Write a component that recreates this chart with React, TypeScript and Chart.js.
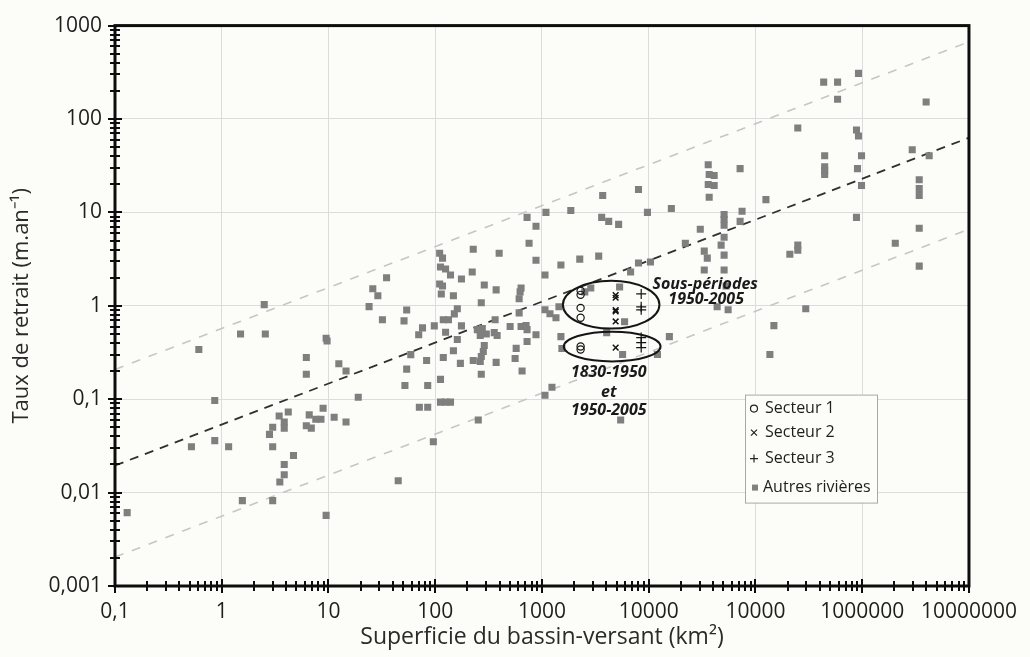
import React, { useEffect, useRef } from 'react';
import { Chart, registerables } from 'chart.js';
Chart.register(...registerables);

const FONT = '"Open Sans", sans-serif';
const BG = '#fcfcf8';

const xTickValues = [0.1, 1, 10, 100, 1000, 10000, 100000, 1000000, 10000000];
const xTickLabels = ['0,1', '1', '10', '100', '1000', '10000', '10000', '1000000', '10000000'];
const yTickValues = [0.001, 0.01, 0.1, 1, 10, 100, 1000];
const yTickLabels = ['0,001', '0,01', '0,1', '1', '10', '100', '1000'];

const xTitle = 'Superficie du bassin-versant (km²)';
const yTitle = 'Taux de retrait (m.an⁻¹)';

const legendLabels = ['Secteur 1', 'Secteur 2', 'Secteur 3', 'Autres rivières'];

// Autres rivières
const autresX = [
  0.13, 0.52, 0.61, 0.86, 0.86, 1.16, 1.5, 1.56, 2.5, 2.56,
  2.8, 3.0, 3.0, 3.0, 3.45, 3.5, 3.85, 3.85, 3.85, 3.85,
  4.2, 4.7, 6.2, 6.2, 6.6, 6.2, 6.9, 7.6, 8.5, 8.9,
  9.5, 9.7, 9.5, 11.3, 12.5, 14.6, 14.6, 19, 24, 26,
  29, 32, 35, 45, 51, 52, 54, 54, 59, 70,
  71, 76, 83, 85, 85, 96, 98, 110, 117, 112,
  125, 139, 110, 117, 114, 112, 112, 125, 139, 119,
  133, 151, 161, 148, 119, 125, 148, 161, 172, 176,
  176, 222, 227, 227, 248, 276, 264, 301, 270, 288,
  288, 282, 270, 264, 270, 253, 364, 357, 380, 372,
  372, 397, 503, 560, 573, 611, 637, 624, 611, 637,
  651, 709, 725, 725, 725, 757, 879, 879, 879, 1089,
  1067, 1067, 1067, 1240, 1862, 3704, 8020, 9727, 16290, 3624,
  4217, 5224, 1504, 2259, 3398, 6761, 8020, 10380, 1188, 1352,
  1442, 2516, 2864, 5336, 5940, 4036, 5690, 12070, 15610, 5457,
  1504, 1536, 22030, 30410, 33130, 35350, 33130, 36080, 36840, 41020,
  36080, 41020, 36840, 47660, 50820, 50820, 50820, 50820, 50820, 50820,
  53070, 43750, 55440, 71780, 74870, 71780, 125300, 148800, 136500, 209900,
  249100, 249100, 249100, 295800, 435500, 587700, 587700, 922700, 444800, 444800,
  444800, 444800, 883600, 922700, 902600, 984500, 984500, 883600, 2040000, 2940000,
  4240000, 3420000, 3420000, 3420000, 3420000, 3420000, 3970000,
];
const autresY = [
  0.0061, 0.031, 0.34, 0.097, 0.036, 0.031, 0.5, 0.0082, 1.03, 0.5,
  0.042, 0.05, 0.031, 0.0082, 0.066, 0.013, 0.057, 0.049, 0.02, 0.0155,
  0.073, 0.025, 0.28, 0.185, 0.068, 0.052, 0.049, 0.061, 0.061, 0.08,
  0.45, 0.42, 0.0057, 0.064, 0.24, 0.2, 0.057, 0.105, 0.98, 1.52,
  1.28, 0.71, 2.0, 0.0134, 0.69, 0.14, 0.9, 0.21, 0.3, 0.49,
  0.082, 0.58, 0.26, 0.14, 0.082, 0.035, 0.61, 3.66, 3.24, 2.6,
  2.48, 2.14, 1.71, 1.63, 1.34, 0.163, 0.093, 0.093, 0.093, 0.71,
  0.71, 0.82, 0.93, 1.28, 0.28, 0.52, 0.33, 0.435, 0.242, 1.94,
  0.61, 2.3, 4.04, 0.26, 0.556, 0.57, 0.48, 0.5, 1.08, 1.67,
  0.375, 0.324, 0.286, 0.254, 0.185, 0.06, 0.71, 0.516, 0.48, 1.48,
  0.248, 3.66, 0.6, 0.273, 0.35, 0.84, 1.55, 1.41, 1.19, 0.6,
  0.2, 0.613, 0.556, 0.414, 8.85, 4.68, 7.1, 3.08, 0.49, 10,
  2.14, 0.906, 0.11, 0.134, 10.5, 15.2, 17.6, 10, 11, 8.85,
  8.02, 7.45, 2.73, 3.16, 3.4, 2.3, 2.87, 2.94, 0.822, 0.745,
  0.976, 1.41, 1.55, 1.59, 0.676, 0.516, 0.301, 0.301, 0.468, 0.06,
  0.468, 0.349, 4.68, 6.6, 3.85, 3.24, 2.42, 32.4, 25.4, 24.8,
  19.9, 19.4, 14.5, 4.46, 9.5, 8.43, 7.27, 5.42, 3.49, 2.42,
  1.63, 0.976, 0.906, 29.4, 10.3, 8.02, 13.7, 0.613, 0.301, 3.57,
  4.46, 3.94, 80.2, 0.93, 248, 248, 163, 308, 40.4, 30.8,
  28, 25.4, 76.4, 65.9, 29.4, 40.4, 19.4, 8.85, 4.68, 46.8,
  40.4, 22.4, 18, 15.2, 6.76, 2.66, 152,
];

const secteur1X = [2300, 2300, 2300, 2300, 2300, 2300];
const secteur1Y = [1.45, 1.31, 0.95, 0.745, 0.366, 0.34];
const secteur2X = [4900, 4900, 4900, 4900, 4900, 4900];
const secteur2Y = [1.3, 1.22, 0.9, 0.87, 0.68, 0.357];
const secteur3X = [8500, 8500, 8500, 8500, 8500, 8500];
const secteur3Y = [1.34, 0.975, 0.906, 0.457, 0.404, 0.357];

// enveloppe et tendance (extrémités)
const trendX = [0.1, 10000000];
const trendUpperY = [0.208, 670];
const trendMidY = [0.0195, 63];
const trendLowerY = [0.00204, 6.6];

// ellipses (bornes en coordonnées des données)
const ellipseXMin = [1570, 1600];
const ellipseXMax = [12600, 12900];
const ellipseYMin = [0.57, 0.254];
const ellipseYMax = [1.85, 0.528];

// annotations
const noteTexts = ['Sous-périodes', '1950-2005', '1830-1950', 'et', '1950-2005'];
const noteX = [33800, 34500, 4220, 4220, 4220];
const noteY = [1.71, 1.16, 0.194, 0.119, 0.0764];

const pts = (xs: number[], ys: number[]) => xs.map((x, i) => ({ x, y: ys[i] }));

const decorPlugin = {
  id: 'decor',
  beforeDraw(chart: any) {
    const { ctx, width, height } = chart;
    ctx.save();
    ctx.fillStyle = BG;
    ctx.fillRect(0, 0, width, height);
    ctx.restore();
  },
  afterDatasetsDraw(chart: any) {
    const { ctx, scales } = chart;
    const x = scales.x, y = scales.y;
    ctx.save();
    ctx.strokeStyle = '#151515';
    ctx.lineWidth = 2;
    for (let i = 0; i < ellipseXMin.length; i++) {
      const x1 = x.getPixelForValue(ellipseXMin[i]);
      const x2 = x.getPixelForValue(ellipseXMax[i]);
      const y1 = y.getPixelForValue(ellipseYMax[i]);
      const y2 = y.getPixelForValue(ellipseYMin[i]);
      ctx.beginPath();
      ctx.ellipse((x1 + x2) / 2, (y1 + y2) / 2, (x2 - x1) / 2, (y2 - y1) / 2, 0, 0, Math.PI * 2);
      ctx.stroke();
    }
    ctx.font = `italic bold 16px ${FONT}`;
    ctx.fillStyle = '#1a1a1a';
    ctx.textAlign = 'center';
    ctx.textBaseline = 'middle';
    for (let i = 0; i < noteTexts.length; i++) {
      ctx.fillText(noteTexts[i], x.getPixelForValue(noteX[i]), y.getPixelForValue(noteY[i]));
    }
    ctx.restore();
  },
  afterDraw(chart: any) {
    const { ctx, chartArea: ca, scales } = chart;
    const x = scales.x, y = scales.y;
    ctx.save();
    // frame
    ctx.strokeStyle = '#0d0d0d';
    ctx.lineWidth = 3;
    ctx.strokeRect(ca.left, ca.top, ca.right - ca.left, ca.bottom - ca.top);
    // crossing ticks
    ctx.lineWidth = 2;
    ctx.beginPath();
    for (let i = 0; i < yTickValues.length; i++) {
      for (let m = 1; m <= 9; m++) {
        if (i === yTickValues.length - 1 && m > 1) break;
        const py = Math.round(y.getPixelForValue(yTickValues[i] * m));
        const h = m === 1 ? 7 : 5;
        ctx.moveTo(ca.left - h, py);
        ctx.lineTo(ca.left + h, py);
      }
    }
    for (let i = 0; i < xTickValues.length; i++) {
      for (let m = 1; m <= 9; m++) {
        if (i === xTickValues.length - 1 && m > 1) break;
        const px = Math.round(x.getPixelForValue(xTickValues[i] * m));
        const h = m === 1 ? 7 : 5;
        ctx.moveTo(px, ca.bottom - h);
        ctx.lineTo(px, ca.bottom + h);
      }
    }
    ctx.stroke();
    // legend
    const lx = ca.left + 630, ly = ca.top + 369, lw = 132, lh = 108;
    ctx.fillStyle = BG;
    ctx.fillRect(lx, ly, lw, lh);
    ctx.strokeStyle = '#a8a8a8';
    ctx.lineWidth = 1;
    ctx.strokeRect(lx + 0.5, ly + 0.5, lw, lh);
    const rows = [14, 38, 64, 93];
    const sx = lx + 9;
    ctx.strokeStyle = '#222';
    ctx.lineWidth = 1.2;
    ctx.beginPath();
    ctx.arc(sx, ly + rows[0], 3.5, 0, Math.PI * 2);
    ctx.stroke();
    ctx.beginPath();
    ctx.moveTo(sx - 3, ly + rows[1] - 3); ctx.lineTo(sx + 3, ly + rows[1] + 3);
    ctx.moveTo(sx + 3, ly + rows[1] - 3); ctx.lineTo(sx - 3, ly + rows[1] + 3);
    ctx.moveTo(sx - 4, ly + rows[2]); ctx.lineTo(sx + 4, ly + rows[2]);
    ctx.moveTo(sx, ly + rows[2] - 4); ctx.lineTo(sx, ly + rows[2] + 4);
    ctx.stroke();
    ctx.fillStyle = '#808080';
    ctx.fillRect(sx - 2, ly + rows[3] - 3, 6, 6);
    ctx.fillStyle = '#1e1e1e';
    ctx.font = `16px ${FONT}`;
    ctx.textAlign = 'left';
    ctx.textBaseline = 'middle';
    ctx.fillText(legendLabels[0], lx + 20, ly + rows[0]);
    ctx.fillText(legendLabels[1], lx + 20, ly + rows[1]);
    ctx.fillText(legendLabels[2], lx + 20, ly + rows[2]);
    ctx.fillText(legendLabels[3], lx + 18, ly + rows[3]);
    ctx.restore();
  },
};

export default function App() {
  const ref = useRef<HTMLCanvasElement | null>(null);
  useEffect(() => {
    if (!ref.current) return;
    const chart = new Chart(ref.current, {
      type: 'scatter',
      data: {
        datasets: [
          {
            label: legendLabels[0],
            data: pts(secteur1X, secteur1Y),
            pointStyle: 'circle',
            radius: 3.6,
            backgroundColor: 'rgba(0,0,0,0)',
            borderColor: '#151515',
            borderWidth: 1.2,
            order: 0,
          },
          {
            label: legendLabels[1],
            data: pts(secteur2X, secteur2Y),
            pointStyle: 'crossRot',
            radius: 4,
            borderColor: '#151515',
            borderWidth: 1.5,
            order: 0,
          },
          {
            label: legendLabels[2],
            data: pts(secteur3X, secteur3Y),
            pointStyle: 'cross',
            radius: 5,
            borderColor: '#151515',
            borderWidth: 1.2,
            order: 0,
          },
          {
            label: legendLabels[3],
            data: pts(autresX, autresY),
            pointStyle: 'rect',
            radius: 5,
            backgroundColor: '#7f7f7f',
            borderWidth: 0,
            order: 1,
          },
          {
            label: 'sup',
            data: pts(trendX, trendUpperY),
            showLine: true,
            radius: 0,
            borderColor: '#c6c6c6',
            borderWidth: 1.6,
            borderDash: [9, 9],
            order: 2,
          },
          {
            label: 'mid',
            data: pts(trendX, trendMidY),
            showLine: true,
            radius: 0,
            borderColor: '#303030',
            borderWidth: 1.8,
            borderDash: [9, 7],
            order: 2,
          },
          {
            label: 'inf',
            data: pts(trendX, trendLowerY),
            showLine: true,
            radius: 0,
            borderColor: '#c6c6c6',
            borderWidth: 1.6,
            borderDash: [9, 9],
            order: 2,
          },
        ],
      } as any,
      options: {
        animation: false,
        responsive: false,
        events: [],
        layout: { padding: { top: 22, right: 57, left: 0, bottom: 0 } },
        plugins: { legend: { display: false }, tooltip: { enabled: false } },
        scales: {
          x: {
            type: 'logarithmic',
            position: 'bottom',
            min: 0.1,
            max: 10000000,
            afterBuildTicks: (s: any) => {
              s.ticks = xTickValues.map((v) => ({ value: v }));
            },
            afterFit: (s: any) => {
              s.height = 71;
            },
            ticks: {
              autoSkip: false,
              maxRotation: 0,
              minRotation: 0,
              padding: 13,
              color: '#1e1e1e',
              font: { family: FONT, size: 21 },
              callback: (_v: any, i: number) => xTickLabels[i],
            },
            grid: { color: '#dcdcdf', lineWidth: 1, drawTicks: false },
            border: { display: false },
            title: {
              display: true,
              text: xTitle,
              color: '#2a2a2a',
              font: { family: FONT, size: 23 },
              padding: { top: 0, bottom: 6 },
            },
          },
          y: {
            type: 'logarithmic',
            position: 'left',
            min: 0.001,
            max: 1000,
            afterBuildTicks: (s: any) => {
              s.ticks = yTickValues.map((v) => ({ value: v }));
            },
            afterFit: (s: any) => {
              s.width = 115;
            },
            ticks: {
              autoSkip: false,
              padding: 13,
              color: '#1e1e1e',
              font: { family: FONT, size: 21 },
              callback: (_v: any, i: number) => yTickLabels[i],
            },
            grid: { color: '#dcdcdf', lineWidth: 1, drawTicks: false },
            border: { display: false },
            title: {
              display: true,
              text: yTitle,
              color: '#2a2a2a',
              font: { family: FONT, size: 22 },
              padding: { top: 9, bottom: 0 },
            },
          },
        },
      } as any,
      plugins: [decorPlugin],
    });
    return () => chart.destroy();
  }, []);
  return (
    <div style={{ position: 'fixed', left: 0, top: 0, width: 1030, height: 657, background: BG }}>
      <canvas ref={ref} width={1030} height={657} style={{ display: 'block' }} />
    </div>
  );
}
